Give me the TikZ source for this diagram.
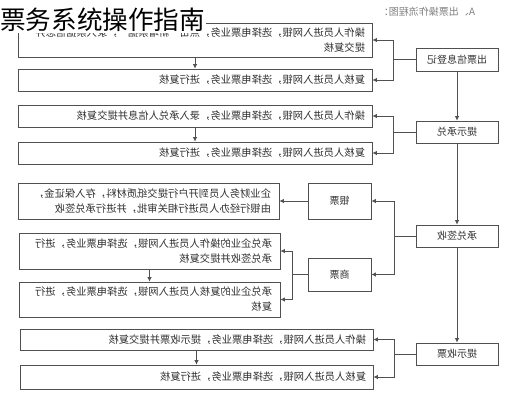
\documentclass[tikz,border=0pt]{standalone}
\usepackage{graphicx}
\usepackage{fontspec}
\setmainfont{Noto Sans CJK SC}
\usetikzlibrary{arrows.meta}
\definecolor{linecol}{HTML}{505050}
\definecolor{txtcol}{HTML}{303030}
\newcommand{\mt}[2]{\reflectbox{\parbox{#1}{\raggedright #2}}}
\newcommand{\ml}[1]{\reflectbox{#1}}
\tikzset{
  box/.style={draw=linecol, line width=0.8pt, rectangle, inner sep=0pt, text=txtcol,
    font=\fontsize{10.3}{15}\selectfont},
  lbl/.style={draw=linecol, line width=0.8pt, rectangle, inner sep=0pt, text=txtcol,
    font=\fontsize{10}{12}\selectfont},
  conn/.style={draw=linecol, line width=0.8pt},
  arr/.style={conn, -{Latex[length=4.5pt,width=4.5pt]}}
}
\begin{document}
\begin{tikzpicture}[x=1pt,y=-1pt]
\useasboundingbox (0,0) rectangle (516,400);
% left column boxes
\node[box, minimum width=354pt, minimum height=34pt] (b1) at (195,40)
  {\mt{340pt}{操作人员进入网银，选择电票业务，点击“新增票据”，录入票据信息并\\提交复核}};
\node[box, minimum width=354pt, minimum height=22pt] (b2) at (195,80)
  {\mt{340pt}{复核人员进入网银，选择电票业务，进行复核}};
\node[box, minimum width=354pt, minimum height=22pt] (b3) at (195,116)
  {\mt{340pt}{操作人员进入网银，选择电票业务，录入承兑人信息并提交复核}};
\node[box, minimum width=354pt, minimum height=22pt] (b4) at (195,153)
  {\mt{340pt}{复核人员进入网银，选择电票业务，进行复核}};
\node[box, minimum width=261pt, minimum height=36pt] (b5) at (148.5,201)
  {\mt{245pt}{企业财务人员到开户行提交纸质材料，存入保证金，\\由银行经办人员进行相关审批，并进行承兑签收}};
\node[box, minimum width=261pt, minimum height=36pt] (b6) at (149.5,251)
  {\mt{245pt}{承兑企业的操作人员进入网银，选择电票业务，进行\\承兑签收并提交复核}};
\node[box, minimum width=261pt, minimum height=35pt] (b7) at (149.5,299.5)
  {\mt{245pt}{承兑企业的复核人员进入网银，选择电票业务，进行\\复核}};
\node[box, minimum width=353pt, minimum height=21pt] (b8) at (196.5,339.5)
  {\mt{339pt}{操作人员进入网银，选择电票业务，提示收票并提交复核}};
\node[box, minimum width=353pt, minimum height=24pt] (b9) at (196.5,377)
  {\mt{339pt}{复核人员进入网银，选择电票业务，进行复核}};
% middle nodes
\node[lbl, minimum width=63pt, minimum height=36pt] (yp) at (339.5,201) {\ml{银票}};
\node[lbl, minimum width=63pt, minimum height=33pt] (sp) at (339.5,274.5) {\ml{商票}};
% right column nodes
\node[lbl, minimum width=82pt, minimum height=23pt] (n1) at (457,59.5) {\ml{出票信息登记}};
\node[lbl, minimum width=82pt, minimum height=22pt] (n2) at (457,132) {\ml{提示承兑}};
\node[lbl, minimum width=82pt, minimum height=22pt] (n3) at (457,236) {\ml{承兑签收}};
\node[lbl, minimum width=82pt, minimum height=22pt] (n4) at (457,354) {\ml{提示收票}};
% vertical flow on the right
\draw[arr] (n1.south) -- (n2.north);
\draw[arr] (n2.south) -- (n3.north);
\draw[arr] (n3.south) -- (n4.north);
% branches
\draw[conn] (n1.west) -- ++(-22,0) coordinate (j1);
\draw[arr] (j1) |- (b1.east);
\draw[arr] (j1) |- (b2.east);
\draw[conn] (n2.west) -- ++(-22,0) coordinate (j2);
\draw[arr] (j2) |- (b3.east);
\draw[arr] (j2) |- (b4.east);
\draw[conn] (n3.west) -- ++(-21,0) coordinate (j3);
\draw[arr] (j3) |- (yp.east);
\draw[arr] (j3) |- (sp.east);
\draw[arr] (yp.west) -- (b5.east);
\draw[conn] (sp.west) -- ++(-15,0) coordinate (j4);
\draw[arr] (j4) |- (b6.east);
\draw[arr] (j4) |- (b7.east);
\draw[conn] (n4.west) -- ++(-21,0) coordinate (j5);
\draw[arr] (j5) |- (b8.east);
\draw[arr] (j5) |- (b9.east);
% down arrows between paired boxes
\draw[arr] (b1.south) -- (b2.north);
\draw[arr] (b3.south) -- (b4.north);
\draw[arr] (b6.south) -- (b7.north);
\draw[arr] (b8.south) -- (b9.north);
% header texts
\node[text=gray, font=\fontsize{10}{12}\selectfont, inner sep=0pt] (cap) at (427,12) {\ml{A、出票操作流程图：}};
\node[fill=white, inner sep=1pt, anchor=west, font=\fontsize{25.6}{28}\selectfont] (title) at (-1,20) {票务系统操作指南};
\end{tikzpicture}
\end{document}
